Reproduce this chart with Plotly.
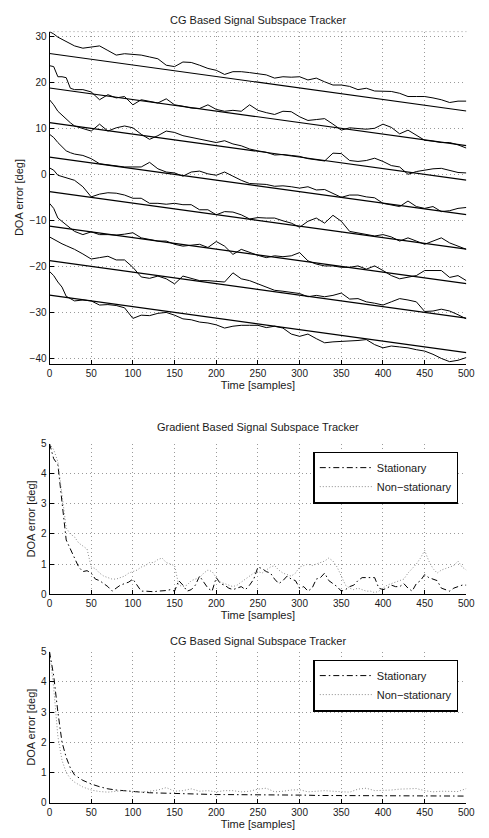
import plotly.graph_objects as go

# ---------------- data ----------------
T_TOP = [0, 5, 10, 15, 20, 25, 30] + list(range(40, 501, 10))

TRACK_1 = [31.0, 30.5, 29.8, 29.3, 28.9, 28.4, 27.9, 27.4, 27.6, 27.9, 26.9, 25.9, 26.2, 26.1, 25.9, 25.5,
           25.1, 23.7, 23.4, 24.4, 24.3, 23.7, 23.0, 22.6, 21.7, 22.3, 22.3, 22.1, 21.9, 21.6, 20.9, 21.2,
           21.1, 21.2, 20.5, 20.9, 20.1, 19.4, 19.4, 19.1, 18.4, 18.7, 18.1, 18.1, 18.0, 17.6, 16.9, 16.9,
           16.9, 16.6, 16.2, 15.6, 15.9, 15.9]
TRACK_2 = [23.6, 23.4, 21.2, 21.2, 21.0, 18.7, 18.4, 18.4, 17.9, 16.2, 17.3, 16.6, 16.9, 15.1, 16.2, 15.9,
           15.5, 16.4, 15.1, 14.8, 14.4, 14.3, 15.1, 14.1, 13.7, 13.9, 13.7, 15.1, 13.9, 13.4, 13.0, 13.7,
           13.6, 12.5, 11.7, 11.9, 12.1, 10.9, 9.6, 10.1, 10.0, 9.8, 10.0, 10.9, 10.2, 8.8, 9.6, 8.5,
           7.4, 7.2, 6.9, 6.9, 6.4, 5.7]
TRACK_3 = [16.2, 15.1, 13.7, 12.8, 11.9, 11.2, 10.5, 10.0, 9.4, 10.9, 9.4, 10.1, 10.5, 10.1, 8.7, 7.6,
           8.4, 9.4, 9.1, 8.4, 8.0, 7.6, 7.3, 6.9, 7.3, 6.6, 6.2, 5.5, 5.1, 4.8, 4.2, 4.3,
           4.1, 3.9, 3.4, 3.2, 2.9, 4.6, 4.5, 3.0, 2.8, 3.0, 3.5, 2.8, 1.9, 1.6, 0.0, 0.6,
           0.9, 1.2, 1.3, 0.9, 0.4, 0.3]
TRACK_4 = [8.7, 8.0, 6.9, 6.0, 5.1, 4.7, 4.4, 4.1, 3.4, 2.3, 2.1, 1.9, 1.6, 1.6, 1.6, 2.6,
           1.2, 0.5, 0.3, -0.4, 0.5, 0.7, 0.1, -0.2, 0.5, -0.4, -1.3, -2.0, -2.1, -2.2, -2.6, -2.5,
           -2.7, -3.0, -2.7, -3.4, -3.3, -4.2, -5.0, -4.5, -4.5, -4.9, -5.1, -6.3, -6.6, -7.0, -5.8, -7.0,
           -7.4, -7.0, -8.1, -7.9, -7.4, -7.2]
TRACK_5 = [1.4, 0.9, -0.2, -0.5, -0.7, -1.0, -1.3, -2.7, -4.9, -4.3, -4.0, -4.1, -4.5, -5.2, -5.2, -6.3,
           -6.3, -6.5, -6.3, -6.6, -6.6, -7.7, -7.7, -8.8, -8.1, -8.2, -8.8, -9.7, -9.4, -9.5, -9.5, -10.1,
           -10.6, -11.5, -10.2, -9.5, -10.6, -8.9, -10.2, -12.4, -12.7, -13.1, -13.4, -13.1, -13.6, -14.5, -13.8, -14.5,
           -15.2, -14.5, -13.8, -14.9, -15.6, -16.3]
TRACK_6 = [-6.3, -7.4, -9.5, -10.3, -10.9, -11.7, -12.4, -13.1, -12.5, -13.1, -13.1, -13.2, -13.0, -12.7, -13.8, -14.1,
           -14.5, -14.5, -15.2, -15.6, -15.4, -15.2, -15.9, -14.6, -15.6, -17.4, -16.3, -17.0, -17.6, -18.1, -17.7, -17.9,
           -17.7, -17.0, -18.8, -19.5, -19.9, -19.9, -20.2, -20.2, -19.9, -20.6, -19.9, -20.9, -22.0, -22.7, -22.4, -22.0,
           -20.9, -20.9, -20.9, -22.4, -22.0, -23.1]
TRACK_7 = [-13.6, -14.1, -14.7, -15.1, -15.5, -15.9, -16.3, -17.3, -18.4, -18.1, -17.8, -18.6, -18.6, -20.2, -22.3, -22.6,
           -22.1, -22.7, -23.8, -22.1, -22.6, -23.1, -23.1, -23.3, -23.4, -21.4, -22.7, -23.1, -23.8, -24.5, -25.2, -25.4,
           -25.7, -25.9, -26.6, -26.3, -26.6, -26.3, -25.8, -27.1, -27.0, -27.7, -28.0, -28.4, -27.7, -27.0, -27.3, -27.7,
           -29.8, -29.7, -29.3, -29.7, -30.5, -31.4]
TRACK_8 = [-21.1, -22.0, -23.4, -24.5, -26.5, -27.0, -27.5, -27.3, -27.5, -28.4, -28.3, -28.5, -29.0, -31.3, -30.6, -30.7,
           -30.2, -30.0, -30.6, -31.4, -31.6, -32.1, -32.3, -32.7, -33.4, -33.0, -32.8, -32.8, -32.8, -33.3, -33.0, -33.4,
           -34.7, -35.2, -34.7, -35.7, -36.6, -36.4, -36.3, -36.3, -36.1, -35.9, -37.0, -37.7, -37.3, -37.5, -37.7, -38.1,
           -38.4, -39.1, -40.0, -40.7, -40.4, -39.8]
TRACKS = [TRACK_1, TRACK_2, TRACK_3, TRACK_4, TRACK_5, TRACK_6, TRACK_7, TRACK_8]

T_TRUE = [0, 500]
TRUE_START = [26.25, 18.75, 11.25, 3.75, -3.75, -11.25, -18.75, -26.25]
TRUE_END = [13.75, 6.25, -1.25, -8.75, -16.25, -23.75, -31.25, -38.75]

T_MID = list(range(0, 501, 5))
GRAD_STAT = [5.0, 4.5, 4.3, 3.0, 1.8, 1.5, 1.2, 0.9, 0.75, 0.78, 0.7, 0.5, 0.45, 0.35, 0.25, 0.1, 0.2, 0.3, 0.35, 0.4,
             0.5, 0.3, 0.1, 0.1, 0.08, 0.08, 0.1, 0.1, 0.12, 0.15, 0.1, 0.45, 0.3, 0.1, 0.15, 0.3, 0.6, 0.4, 0.2, 0.1,
             0.55, 0.35, 0.3, 0.2, 0.15, 0.2, 0.25, 0.15, 0.3, 0.5, 0.9, 0.85, 0.75, 0.7, 0.5, 0.35, 0.45, 0.6, 0.5, 0.45,
             0.2, 0.25, 0.1, 0.2, 0.5, 0.55, 0.7, 0.45, 0.35, 0.25, 0.1, 0.15, 0.25, 0.3, 0.45, 0.55, 0.55, 0.55, 0.55, 0.2,
             0.15, 0.2, 0.3, 0.25, 0.25, 0.35, 0.2, 0.1, 0.35, 0.45, 0.65, 0.55, 0.5, 0.45, 0.2, 0.15, 0.1, 0.2, 0.25, 0.3,
             0.3]
GRAD_NONSTAT = [5.0, 4.8, 4.4, 3.2, 2.2, 2.0, 1.9, 1.7, 1.6, 1.5, 0.9, 0.85, 0.7, 0.6, 0.55, 0.5, 0.5, 0.55, 0.6, 0.7,
                0.75, 0.8, 0.9, 0.95, 1.05, 1.05, 1.15, 1.2, 1.05, 1.0, 0.95, 0.3, 0.25, 0.3, 0.45, 0.5, 0.55, 0.7, 0.8, 0.75,
                0.55, 0.4, 0.35, 0.3, 0.25, 0.3, 0.4, 0.5, 0.6, 0.7, 0.75, 0.7, 0.8, 0.9, 0.95, 0.8, 0.7, 0.65, 0.6, 0.7,
                0.9, 0.95, 1.0, 0.95, 1.0, 1.05, 1.1, 1.2, 1.1, 0.9, 0.6, 0.3, 0.2, 0.15, 0.2, 0.15, 0.1, 0.1, 0.05, 0.1,
                0.2, 0.3, 0.35, 0.4, 0.45, 0.5, 0.7, 0.85, 1.0, 1.2, 1.45, 1.1, 0.85, 0.7, 0.8, 0.85, 0.9, 0.95, 1.1, 0.9,
                0.8]

T_BOT = [0, 5, 10, 15, 20, 25, 30, 35, 40, 45, 50] + list(range(60, 501, 10))
CG_STAT = [5.0, 4.2, 3.0, 2.0, 1.5, 1.15, 0.92, 0.82, 0.74, 0.68, 0.62, 0.53, 0.46, 0.42, 0.39, 0.37, 0.35, 0.33,
           0.32, 0.31, 0.30, 0.29, 0.29, 0.28, 0.28, 0.27, 0.27, 0.27, 0.26, 0.26, 0.26, 0.26, 0.25, 0.25, 0.25,
           0.25, 0.25, 0.24, 0.24, 0.24, 0.24, 0.24, 0.24, 0.23, 0.23, 0.23, 0.23, 0.23, 0.23, 0.23, 0.23, 0.22,
           0.22, 0.22, 0.22, 0.22]
CG_NONSTAT = [5.0, 3.8, 2.2, 1.4, 1.0, 0.8, 0.68, 0.6, 0.52, 0.47, 0.42, 0.37, 0.35, 0.38, 0.40, 0.37, 0.35, 0.38,
              0.42, 0.50, 0.38, 0.40, 0.46, 0.38, 0.40, 0.36, 0.40, 0.40, 0.36, 0.38, 0.45, 0.48, 0.36, 0.38, 0.42,
              0.43, 0.36, 0.38, 0.40, 0.38, 0.36, 0.35, 0.45, 0.48, 0.40, 0.40, 0.42, 0.45, 0.45, 0.47, 0.40, 0.36,
              0.38, 0.37, 0.37, 0.47]

X_TICKS = list(range(0, 501, 50))
TITLES = ["CG Based Signal Subspace Tracker", "Gradient Based Signal Subspace Tracker",
          "CG Based Signal Subspace Tracker"]
X_LABEL = "Time [samples]"
Y_LABEL = "DOA error [deg]"
LEGEND_NAMES = ["Stationary", "Non\u2212stationary"]

# ---------------- layout helpers ----------------
W, H = 489, 838
FONT = "Liberation Sans, Arial, Helvetica, sans-serif"
TXT = "#1a1a1a"
GRID = "#9a9a9a"
GRID_DASH = "1px,3px"
STAT_DASH = "6px,3px,1.5px,3px"
NONSTAT_DASH = "1px,2px"
NONSTAT_COLOR = "#8c8c8c"


def fy(px):
    return 1 - px / H


XDOM = [47.7 / W, 475.0 / W]
YDOM = [[fy(362.7), fy(26.0)], [fy(596.7), fy(444.0)], [fy(808.3), fy(655.0)]]

fig = go.Figure()

# top panel
for k, tr in enumerate(TRACKS):
    fig.add_trace(go.Scatter(x=T_TOP, y=tr, mode="lines", line=dict(color="black", width=1),
                             showlegend=False, xaxis="x", yaxis="y", hoverinfo="skip"))
    fig.add_trace(go.Scatter(x=T_TRUE, y=[TRUE_START[k], TRUE_END[k]], mode="lines",
                             line=dict(color="black", width=1.2), showlegend=False,
                             xaxis="x", yaxis="y", hoverinfo="skip"))

# middle panel
fig.add_trace(go.Scatter(x=T_MID, y=GRAD_STAT, mode="lines", name=LEGEND_NAMES[0],
                         line=dict(color="black", width=1, dash=STAT_DASH), xaxis="x2", yaxis="y2",
                         legend="legend"))
fig.add_trace(go.Scatter(x=T_MID, y=GRAD_NONSTAT, mode="lines", name=LEGEND_NAMES[1],
                         line=dict(color=NONSTAT_COLOR, width=1, dash=NONSTAT_DASH), xaxis="x2", yaxis="y2",
                         legend="legend"))
# bottom panel
fig.add_trace(go.Scatter(x=T_BOT, y=CG_STAT, mode="lines", name=LEGEND_NAMES[0],
                         line=dict(color="black", width=1, dash=STAT_DASH), xaxis="x3", yaxis="y3",
                         legend="legend2"))
fig.add_trace(go.Scatter(x=T_BOT, y=CG_NONSTAT, mode="lines", name=LEGEND_NAMES[1],
                         line=dict(color=NONSTAT_COLOR, width=1, dash=NONSTAT_DASH), xaxis="x3", yaxis="y3",
                         legend="legend2"))

xcommon = dict(range=[0, 500], tickvals=X_TICKS, ticks="inside", ticklen=4, tickcolor="black",
               showline=True, linecolor="black", linewidth=1, showgrid=True, gridcolor=GRID,
               griddash=GRID_DASH, gridwidth=1, zeroline=False, tickfont=dict(size=10, color=TXT),
               title=dict(text=X_LABEL, font=dict(size=11, color=TXT), standoff=0))
ycommon = dict(ticks="inside", ticklen=4, tickcolor="black", showline=True, linecolor="black",
               linewidth=1, showgrid=True, gridcolor=GRID, griddash=GRID_DASH, gridwidth=1, zeroline=False,
               tickfont=dict(size=10, color=TXT),
               title=dict(text=Y_LABEL, font=dict(size=11, color=TXT), standoff=3))

legcommon = dict(x=318 / W, xanchor="left", yanchor="top", bgcolor="white", bordercolor="black",
                 borderwidth=1.6, font=dict(size=11, color=TXT, family=FONT), itemwidth=52,
                 tracegroupgap=0)

fig.update_layout(
    width=W, height=H, margin=dict(l=0, r=0, t=0, b=0),
    paper_bgcolor="white", plot_bgcolor="white",
    font=dict(family=FONT, color=TXT),
    xaxis=dict(domain=XDOM, anchor="y", **xcommon),
    yaxis=dict(domain=YDOM[0], anchor="x", range=[-41.1, 31.0], tickvals=list(range(-40, 31, 10)), **ycommon),
    xaxis2=dict(domain=XDOM, anchor="y2", **xcommon),
    yaxis2=dict(domain=YDOM[1], anchor="x2", range=[0, 5], tickvals=[0, 1, 2, 3, 4, 5], **ycommon),
    xaxis3=dict(domain=XDOM, anchor="y3", **xcommon),
    yaxis3=dict(domain=YDOM[2], anchor="x3", range=[0, 5], tickvals=[0, 1, 2, 3, 4, 5], **ycommon),
    legend=dict(y=fy(452), **legcommon),
    legend2=dict(y=fy(663), **legcommon),
    shapes=[dict(type="line", xref="x domain", yref="y domain", x0=0, x1=1, y0=1, y1=1,
                 line=dict(color=GRID, width=1, dash=GRID_DASH))],
)

title_y = [14, 427, 644]
for t, ypx in zip(TITLES, title_y):
    fig.add_annotation(text=t, x=(XDOM[0] + XDOM[1]) / 2, y=fy(ypx), xref="paper", yref="paper",
                       showarrow=False, font=dict(size=11, color=TXT), xanchor="center", yanchor="middle")

fig.write_html("out.html", config={"displayModeBar": False},
               post_script="document.body.style.margin='0';document.body.style.overflow='hidden';")
